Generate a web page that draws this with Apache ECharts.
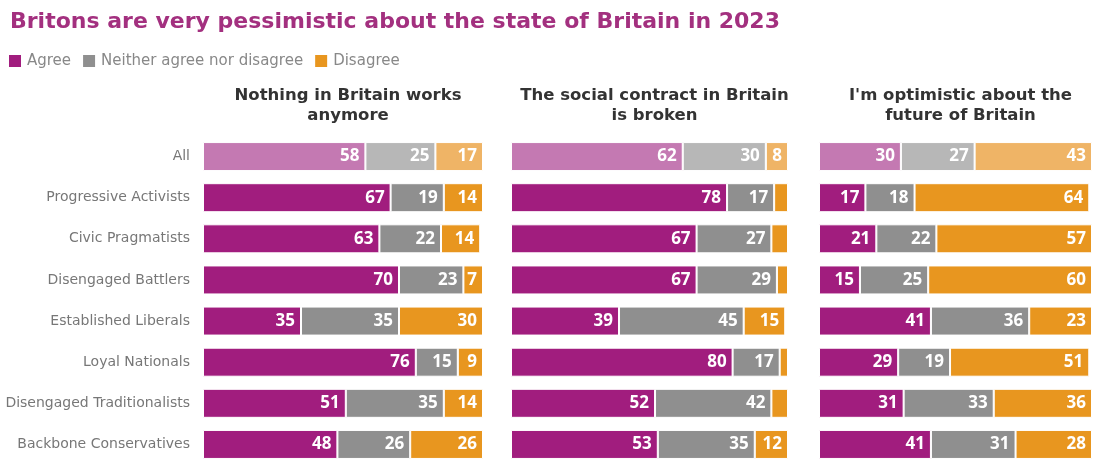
<!DOCTYPE html>
<html><head><meta charset="utf-8">
<script src="https://cdn.jsdelivr.net/npm/echarts@6/dist/echarts.min.js"></script>
<style>html,body{margin:0;padding:0;background:#fff}#c{width:1098px;height:465px}</style>
</head><body><div id="c"></div>
<script>
var categories = ['All','Progressive Activists','Civic Pragmatists','Disengaged Battlers','Established Liberals','Loyal Nationals','Disengaged Traditionalists','Backbone Conservatives'];
var panelTitles = ['Nothing in Britain works\nanymore','The social contract in Britain\nis broken',"I'm optimistic about the\nfuture of Britain"];
var seriesNames = ['Agree','Neither agree nor disagree','Disagree'];
var agree1 = [58,67,63,70,35,76,51,48];
var neither1 = [25,19,22,23,35,15,35,26];
var disagree1 = [17,14,14,7,30,9,14,26];
var agree2 = [62,78,67,67,39,80,52,53];
var neither2 = [30,17,27,29,45,17,42,35];
var disagree2 = [8,5,6,4,15,3,6,12];
var agree3 = [30,17,21,15,41,29,31,41];
var neither3 = [27,18,22,25,36,19,33,31];
var disagree3 = [43,64,57,60,23,51,36,28];

var colors = ['#a11d7e','#8f8f8f','#e8961f'];
var lightColors = ['#c479b2','#b7b7b7','#efb466'];
var panels = [[agree1,neither1,disagree1],[agree2,neither2,disagree2],[agree3,neither3,disagree3]];
var lefts = [203,511,819];
var widths = [280,277,273];
var FONT = 'Open Sans';
var WIDE = 'DejaVu Sans';

var grids=[],xAxes=[],yAxes=[],series=[],titles=[];
titles.push({text:'Britons are very pessimistic about the state of Britain in 2023',left:5,top:6,
  textStyle:{fontFamily:WIDE,fontSize:22,fontWeight:'bold',color:'#a3307f'}});
for (var p=0;p<3;p++){
  grids.push({left:lefts[p],width:widths[p],top:136,height:329});
  xAxes.push({type:'value',gridIndex:p,min:0,max:100,show:false});
  yAxes.push({type:'category',gridIndex:p,data:categories,inverse:true,
    axisLine:{show:false},axisTick:{show:false},
    axisLabel:{show:p===0,margin:13,fontFamily:WIDE,fontSize:14,color:'#777'}});
  titles.push({text:panelTitles[p],left:lefts[p]+widths[p]/2,top:81,textAlign:'center',
    textStyle:{fontFamily:WIDE,fontSize:16.5,fontWeight:'bold',color:'#333',lineHeight:20}});
  for (var s=0;s<3;s++){
    (function(p,s){
      series.push({type:'bar',name:seriesNames[s],stack:'p'+p,xAxisIndex:p,yAxisIndex:p,
        barWidth:29,color:colors[s],
        itemStyle:{color:colors[s],borderColor:'#fff',borderWidth:1},
        label:{show:true,position:'insideRight',distance:6,color:'#fff',fontFamily:FONT,fontWeight:'bold',fontSize:17,
          formatter:function(d){return d.value<7?'':d.value;}},
        data:panels[p][s].map(function(v,i){
          return i===0?{value:v,itemStyle:{color:lightColors[s]}}:v;
        })
      });
    })(p,s);
  }
}
var chart = echarts.init(document.getElementById('c'),null,{renderer:'canvas'});
chart.setOption({
  backgroundColor:'#fff',
  animation:false,
  title:titles,
  legend:{data:seriesNames,left:2,top:48,icon:'rect',itemWidth:14,itemHeight:14,itemGap:10,
    textStyle:{fontFamily:WIDE,fontSize:15,color:'#888'}},
  grid:grids,xAxis:xAxes,yAxis:yAxes,series:series
});
</script></body></html>
